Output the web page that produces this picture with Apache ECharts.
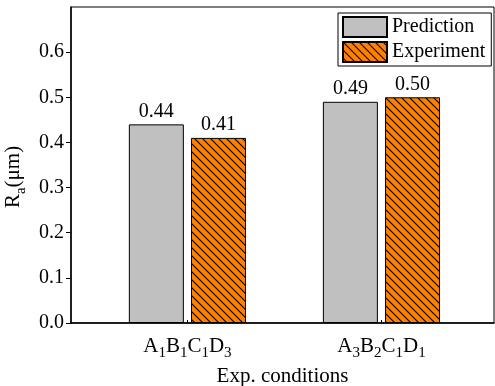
<!DOCTYPE html>
<html>
<head>
<meta charset="utf-8">
<script src="https://cdn.jsdelivr.net/npm/echarts@6/dist/echarts.min.js"></script>
<style>
  html, body { margin: 0; padding: 0; background: #fff; }
  #chart { width: 495px; height: 386px; }
</style>
</head>
<body>
<div id="chart"></div>
<script>
// data
const categories = ["A1B1C1D3", "A3B2C1D1"];
const xPositions = [1, 2];
const prediction = [0.44, 0.49];
const experiment = [0.41, 0.5];
const yTicks = [0, 0.1, 0.2, 0.3, 0.4, 0.5, 0.6];

const FONT = "Liberation Serif";

// hatched orange fill (\\\\)
function makeHatch() {
  const c = document.createElement("canvas");
  c.width = 8;
  c.height = 8;
  const ctx = c.getContext("2d");
  ctx.fillStyle = "#ff8000";
  ctx.fillRect(0, 0, 8, 8);
  ctx.strokeStyle = "#000";
  ctx.lineWidth = 1.1;
  ctx.beginPath();
  ctx.moveTo(-1, -1);
  ctx.lineTo(9, 9);
  ctx.moveTo(-1, 7);
  ctx.lineTo(1, 9);
  ctx.moveTo(7, -1);
  ctx.lineTo(9, 1);
  ctx.stroke();
  return c;
}

// "A1B1C1D3" -> letters normal, digits as subscript
function subLabel(str) {
  return str
    .split("")
    .map((ch) => (/\d/.test(ch) ? `{sub|${ch}}` : `{n|${ch}}`))
    .join("");
}

// normal glyphs get bottom padding so the digits sit lower
const richText = {
  n: {
    fontFamily: FONT,
    fontSize: 21,
    color: "#000",
    verticalAlign: "bottom",
    lineHeight: 21,
    padding: [0, 0, 4, 0],
  },
  sub: {
    fontFamily: FONT,
    fontSize: 15,
    color: "#000",
    verticalAlign: "bottom",
    lineHeight: 15,
  },
};

const chart = echarts.init(document.getElementById("chart"), null, { renderer: "canvas" });

chart.setOption({
  animation: false,
  textStyle: { fontFamily: FONT, color: "#000" },
  grid: {
    left: 71,
    right: 1,
    top: 7,
    bottom: 63,
    containLabel: false,
    outerBoundsMode: "none",
    show: true,
    borderColor: "#000",
    borderWidth: 1,
  },
  legend: {
    left: 338,
    top: 13,
    orient: "vertical",
    icon: "rect",
    itemWidth: 44,
    itemHeight: 20,
    itemGap: 3,
    padding: [3, 6, 3, 4],
    borderColor: "#000",
    borderWidth: 1,
    textStyle: { fontFamily: FONT, fontSize: 20, color: "#000" },
    data: ["Prediction", "Experiment"],
  },
  xAxis: {
    type: "value",
    min: 0.4,
    max: 2.58,
    name: "Exp. conditions",
    nameLocation: "middle",
    nameGap: 38,
    nameTextStyle: { fontFamily: FONT, fontSize: 21, color: "#000" },
    axisLine: { lineStyle: { color: "#000", width: 1.5 } },
    axisTick: {
      inside: true,
      length: 3,
      customValues: xPositions,
      lineStyle: { color: "#000" },
    },
    axisLabel: {
      customValues: xPositions,
      margin: 17,
      formatter(value) {
        const idx = xPositions.indexOf(value);
        return idx >= 0 ? subLabel(categories[idx]) : "";
      },
      rich: richText,
    },
    splitLine: { show: false },
  },
  yAxis: {
    type: "value",
    min: 0,
    max: 0.7,
    interval: 0.1,
    name: "{n|R}{sub|a}{n|(μm)}",
    nameLocation: "middle",
    nameGap: 42,
    nameRotate: 90,
    nameTextStyle: {
      fontFamily: FONT,
      fontSize: 20,
      color: "#000",
      padding: [0, 24, 0, 0],
      rich: richText,
    },
    axisLine: { show: true, lineStyle: { color: "#000", width: 1.5 } },
    axisTick: {
      show: true,
      length: 5,
      customValues: yTicks,
      lineStyle: { color: "#000" },
    },
    axisLabel: {
      customValues: yTicks,
      margin: 7,
      fontFamily: FONT,
      fontSize: 20,
      color: "#000",
      formatter(value) {
        return value.toFixed(1);
      },
    },
    splitLine: { show: false },
  },
  series: [
    {
      name: "Prediction",
      type: "bar",
      barWidth: 55,
      barGap: "13%",
      data: xPositions.map((x, i) => [x, prediction[i]]),
      itemStyle: { color: "#c0c0c0", borderColor: "#000", borderWidth: 1 },
      label: {
        show: true,
        position: "top",
        distance: 3,
        fontFamily: FONT,
        fontSize: 20,
        color: "#000",
        formatter: (p) => p.value[1].toFixed(2),
      },
    },
    {
      name: "Experiment",
      type: "bar",
      barWidth: 55,
      barGap: "13%",
      data: xPositions.map((x, i) => [x, experiment[i]]),
      itemStyle: {
        color: { image: makeHatch(), repeat: "repeat" },
        borderColor: "#000",
        borderWidth: 1,
      },
      label: {
        show: true,
        position: "top",
        distance: 3,
        fontFamily: FONT,
        fontSize: 20,
        color: "#000",
        formatter: (p) => p.value[1].toFixed(2),
      },
    },
  ],
});
</script>
</body>
</html>
